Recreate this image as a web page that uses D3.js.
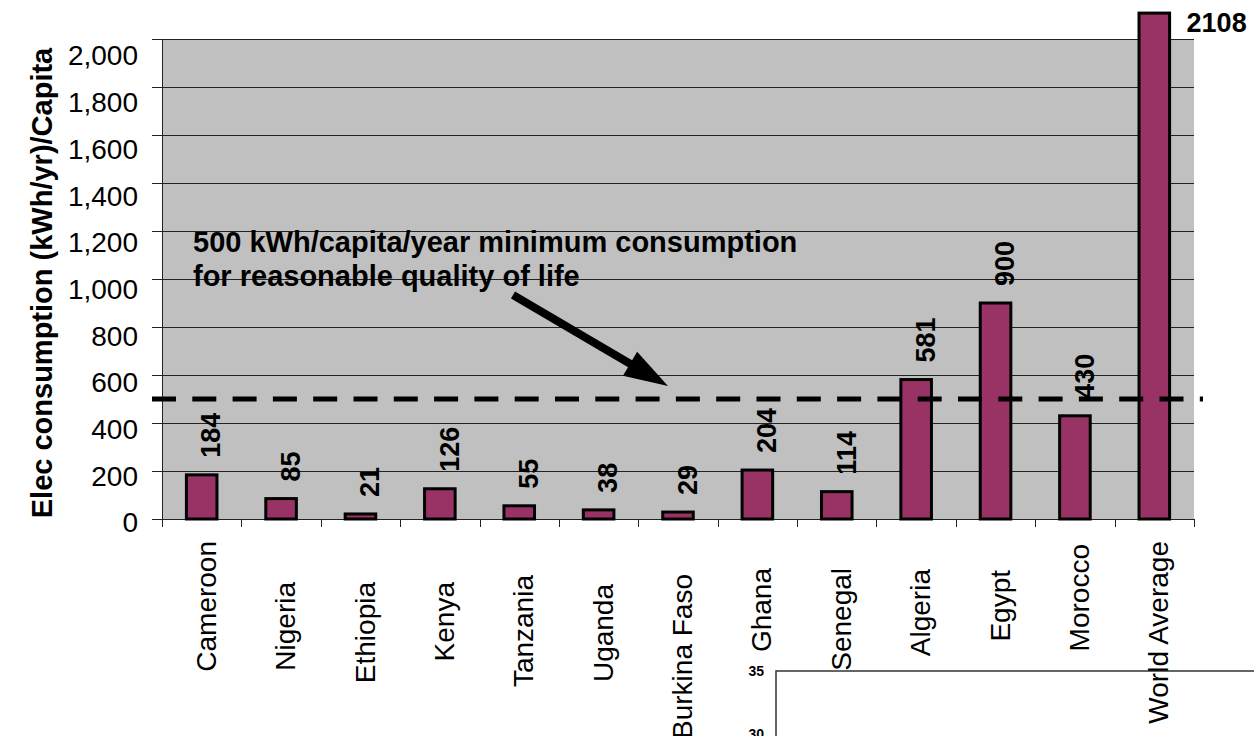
<!DOCTYPE html>
<html>
<head>
<meta charset="utf-8">
<script src="https://cdn.jsdelivr.net/npm/d3@7"></script>
<style>
  html, body { margin: 0; padding: 0; background: #ffffff; }
  svg { display: block; font-family: "Liberation Sans", Arial, Helvetica, sans-serif; }
</style>
</head>
<body>
<svg id="chart" width="1254" height="736"></svg>
<script>
// Electricity consumption per capita (kWh/yr)
const categories = ["Cameroon", "Nigeria", "Ethiopia", "Kenya", "Tanzania", "Uganda",
  "Burkina Faso", "Ghana", "Senegal", "Algeria", "Egypt", "Morocco", "World Average"];
const consumption = [184, 85, 21, 126, 55, 38, 29, 204, 114, 581, 900, 430, 2108];
const yTicks = [0, 200, 400, 600, 800, 1000, 1200, 1400, 1600, 1800, 2000];
const threshold = 500;
const annotationLines = ["500 kWh/capita/year minimum consumption", "for reasonable quality of life"];
const yTitle = "Elec consumption (kWh/yr)/Capita";
const insetTicks = [35, 30];

// where each rotated category label ends, below the axis
const categoryLabelTop = [541, 582, 582, 582, 575, 584, 574, 568, 568, 569, 570, 544, 541];

const svg = d3.select("#chart");
const W = 1254, H = 736;
const plot = { left: 162, right: 1194, top: 39, bottom: 519 };

const x = d3.scaleBand().domain(categories)
  .range([plot.left, plot.right]).paddingInner(0.615).paddingOuter(0.3075);
const y = d3.scaleLinear().domain([0, 2000]).range([plot.bottom, plot.top]);
// tick labels sit on a slightly compressed scale of their own
const yLabel = d3.scaleLinear().domain([0, 2000]).range([523, 56]);

svg.append("rect").attr("width", W).attr("height", H).attr("fill", "#ffffff");

// fragment of a second chart frame, lower right
const insetY = d3.scaleLinear().domain([30, 35]).range([734, 671]);
const inset = svg.append("g");
inset.append("path")
  .attr("d", `M${W + 5},${insetY(35)}H776V${H + 5}`)
  .attr("fill", "none").attr("stroke", "#333").attr("stroke-width", 1.5);
inset.selectAll("text").data(insetTicks).join("text")
  .attr("x", 764).attr("y", d => insetY(d)).attr("dy", "0.36em")
  .attr("text-anchor", "end").attr("font-size", 14).attr("font-weight", "bold")
  .text(d => d);

// plot area
svg.append("rect")
  .attr("x", plot.left).attr("y", plot.top)
  .attr("width", plot.right - plot.left).attr("height", plot.bottom - plot.top)
  .attr("fill", "#c0c0c0");

// gridlines + left ticks
svg.append("g").selectAll("line").data(yTicks).join("line")
  .attr("x1", plot.left - 10).attr("x2", plot.right)
  .attr("y1", d => Math.round(y(d)) + 0.5).attr("y2", d => Math.round(y(d)) + 0.5)
  .attr("stroke", "#222").attr("stroke-width", 1);

// value axis line
svg.append("line")
  .attr("x1", plot.left + 0.5).attr("x2", plot.left + 0.5)
  .attr("y1", plot.top).attr("y2", plot.bottom + 8)
  .attr("stroke", "#222").attr("stroke-width", 1);

// category boundary ticks
const bounds = d3.range(categories.length + 1).map(i => plot.left + i * x.step());
svg.append("g").selectAll("line").data(bounds).join("line")
  .attr("x1", d => Math.round(d) + 0.5).attr("x2", d => Math.round(d) + 0.5)
  .attr("y1", plot.bottom).attr("y2", plot.bottom + 8)
  .attr("stroke", "#222").attr("stroke-width", 1);

// y tick labels
const yAxis = d3.axisLeft(yLabel).tickValues(yTicks).tickSize(0).tickPadding(0)
  .tickFormat(d3.format(","));
const yAxisG = svg.append("g").attr("transform", "translate(138,0)").call(yAxis);
yAxisG.select(".domain").remove();
yAxisG.selectAll("text").attr("font-size", 28).attr("fill", "#000")
  .attr("font-family", "Liberation Sans, Arial, sans-serif");

// y title
svg.append("text")
  .attr("transform", "translate(52,283) rotate(-90)")
  .attr("text-anchor", "middle").attr("font-size", 29).attr("font-weight", "bold")
  .text(yTitle);

// bars
svg.append("g").selectAll("rect").data(consumption).join("rect")
  .attr("x", (d, i) => x(categories[i]))
  .attr("y", d => y(d))
  .attr("width", x.bandwidth())
  .attr("height", d => y(0) - y(d))
  .attr("fill", "#993366").attr("stroke", "#000").attr("stroke-width", 3);

// value labels
const vals = svg.append("g").attr("font-weight", "bold").attr("font-size", 27);
consumption.forEach((d, i) => {
  const cx = x(categories[i]) + x.bandwidth() / 2;
  if (y(d) < plot.top) {
    vals.append("text")
      .attr("x", x(categories[i]) + x.bandwidth() + 17).attr("y", y(d) + 19)
      .text(d);
  } else {
    vals.append("text")
      .attr("transform", `translate(${cx + 9},${y(d) - 17}) rotate(-90)`)
      .attr("dy", "0.36em").text(d);
  }
});

// threshold line
svg.append("line")
  .attr("x1", 152).attr("x2", 1203)
  .attr("y1", y(threshold)).attr("y2", y(threshold))
  .attr("stroke", "#000").attr("stroke-width", 5)
  .attr("stroke-dasharray", "24 16.3");

// annotation text
svg.append("g").selectAll("text").data(annotationLines).join("text")
  .attr("x", 193).attr("y", (d, i) => 252 + i * 34)
  .attr("font-size", 29).attr("font-weight", "bold")
  .text(d => d);

// arrow from annotation to threshold
const tail = [513, 295], tip = [668, 386];
const len = Math.hypot(tip[0] - tail[0], tip[1] - tail[1]);
const u = [(tip[0] - tail[0]) / len, (tip[1] - tail[1]) / len];
const nrm = [-u[1], u[0]];
const headLen = 44, headHalf = 14;
const base = [tip[0] - headLen * u[0], tip[1] - headLen * u[1]];
svg.append("line")
  .attr("x1", tail[0]).attr("y1", tail[1]).attr("x2", base[0] + u[0] * 2).attr("y2", base[1] + u[1] * 2)
  .attr("stroke", "#000").attr("stroke-width", 8);
svg.append("path")
  .attr("d", d3.line()([
    tip,
    [base[0] + headHalf * nrm[0], base[1] + headHalf * nrm[1]],
    [base[0] - headHalf * nrm[0], base[1] - headHalf * nrm[1]]
  ]) + "Z")
  .attr("fill", "#000");

// category labels
svg.append("g").selectAll("text").data(categories).join("text")
  .attr("transform", (d, i) => `translate(${x(d) + x.bandwidth() / 2 + 4},${categoryLabelTop[i]}) rotate(-90)`)
  .attr("text-anchor", "end").attr("dy", "0.36em")
  .attr("font-size", 28)
  .text(d => d);
</script>
</body>
</html>
